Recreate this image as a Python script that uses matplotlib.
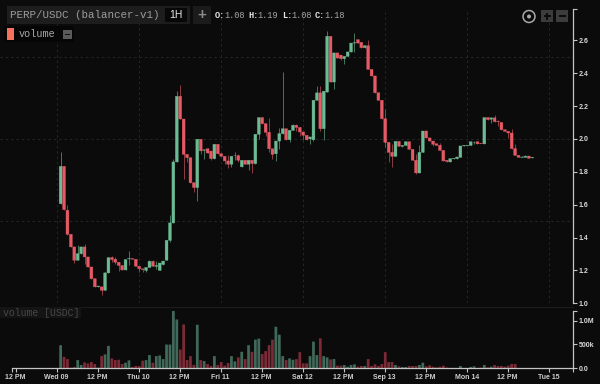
import numpy as np
import matplotlib
matplotlib.use("Agg")
import matplotlib.pyplot as plt
from matplotlib.patches import Rectangle, Circle

# hourly candles, hour 1 = Wed 09 01:00
opens = [1.606,1.833,1.566,1.42,1.343,1.262,1.302,1.343,1.282,1.221,1.15,1.10,1.10,1.079,1.185,1.278,1.268,1.25,1.23,1.203,
         1.27,1.272,1.268,1.225,1.21,1.20,1.218,1.255,1.225,1.20,1.236,1.262,1.383,1.489,1.86,2.259,2.121,1.906,1.886,1.734,
         1.704,1.998,1.93,1.94,1.926,1.88,1.967,1.91,1.894,1.866,1.846,1.90,1.898,1.83,1.87,1.846,1.87,1.85,2.028,2.13,
         2.093,2.04,1.94,1.91,1.987,2.032,2.062,1.995,2.052,2.083,2.07,2.042,2.022,2.0,1.995,2.235,2.28,2.062,2.285,2.624,
         2.346,2.523,2.51,2.488,2.502,2.529,2.583,2.604,2.587,2.555,2.567,2.423,2.383,2.281,2.235,2.123,1.979,1.918,1.894,1.985,
         1.955,1.96,1.983,1.937,1.87,1.793,1.918,2.048,2.006,1.987,1.971,1.961,1.93,1.87,1.86,1.88,1.88,1.888,1.957,1.96,
         1.96,1.98,1.983,1.972,1.97,2.13,2.12,2.128,2.107,2.10,2.056,2.046,2.036,1.941,1.90,1.888,1.888,1.896,1.885]
closes = [1.833,1.570,1.42,1.343,1.262,1.302,1.343,1.282,1.221,1.15,1.10,1.105,1.079,1.185,1.278,1.266,1.25,1.23,1.203,1.266,
          1.272,1.268,1.225,1.21,1.205,1.218,1.255,1.225,1.23,1.245,1.257,1.383,1.489,1.86,2.259,2.121,1.906,1.886,1.734,1.704,
          1.998,1.927,1.934,1.914,1.88,1.967,1.91,1.894,1.866,1.846,1.894,1.90,1.87,1.87,1.846,1.87,1.85,2.028,2.13,2.093,
          2.04,1.94,1.906,1.987,2.032,2.062,1.995,2.052,2.083,2.07,2.042,2.022,1.995,2.012,2.235,2.28,2.062,2.29,2.624,2.346,
          2.523,2.492,2.488,2.502,2.529,2.583,2.585,2.583,2.555,2.567,2.423,2.383,2.281,2.235,2.123,1.979,1.918,1.894,1.985,1.955,
          1.96,1.983,1.937,1.87,1.793,1.918,2.048,2.006,1.987,1.967,1.961,1.93,1.866,1.862,1.88,1.882,1.89,1.957,1.96,1.962,
          1.983,1.98,1.97,1.97,2.13,2.117,2.128,2.105,2.105,2.056,2.046,2.036,1.941,1.90,1.888,1.89,1.895,1.882,1.888]
highs = [1.922,1.833,1.60,1.42,1.343,1.352,1.343,1.359,1.282,1.221,1.15,1.105,1.10,1.19,1.278,1.286,1.28,1.25,1.23,1.266,
         1.318,1.272,1.268,1.225,1.21,1.218,1.265,1.265,1.257,1.245,1.257,1.383,1.535,1.875,2.29,2.326,2.121,1.91,1.886,1.734,
         2.0,1.998,1.934,1.945,1.926,1.967,1.967,1.91,1.894,1.90,1.895,1.918,1.91,1.87,1.87,1.87,1.87,2.028,2.13,2.13,
         2.093,2.13,1.94,1.987,2.066,2.405,2.062,2.052,2.09,2.093,2.07,2.042,2.022,2.012,2.235,2.32,2.32,2.29,2.654,2.624,
         2.523,2.523,2.51,2.502,2.529,2.583,2.644,2.604,2.587,2.567,2.60,2.423,2.383,2.281,2.235,2.184,1.979,1.97,1.985,1.985,
         1.965,1.983,1.983,1.937,1.906,1.96,2.048,2.056,2.006,1.987,1.971,1.975,1.93,1.87,1.88,1.885,1.89,1.957,1.96,1.965,
         1.983,1.99,1.983,1.972,2.13,2.135,2.128,2.143,2.115,2.10,2.056,2.046,2.058,1.97,1.90,1.895,1.90,1.896,1.888]
lows = [1.606,1.570,1.415,1.343,1.245,1.262,1.302,1.237,1.221,1.15,1.10,1.10,1.049,1.079,1.185,1.25,1.24,1.197,1.203,1.203,
        1.231,1.268,1.225,1.193,1.19,1.19,1.218,1.225,1.21,1.20,1.23,1.262,1.375,1.489,1.86,2.121,1.758,1.86,1.734,1.68,
        1.62,1.91,1.876,1.914,1.874,1.88,1.91,1.894,1.85,1.823,1.83,1.874,1.86,1.83,1.846,1.81,1.79,1.85,2.0,2.093,
        2.015,1.92,1.88,1.866,1.94,2.03,1.995,1.98,2.052,2.05,2.02,1.995,1.995,1.967,1.99,2.235,2.048,1.995,2.285,2.346,
        2.306,2.492,2.478,2.454,2.502,2.529,2.53,2.583,2.555,2.555,2.423,2.383,2.281,2.235,2.123,1.95,1.86,1.83,1.894,1.955,
        1.95,1.96,1.937,1.87,1.785,1.793,1.918,2.006,1.987,1.955,1.961,1.93,1.866,1.862,1.86,1.88,1.88,1.888,1.957,1.96,
        1.96,1.97,1.97,1.97,1.97,2.117,2.098,2.105,2.08,2.056,2.046,2.008,1.941,1.90,1.888,1.888,1.888,1.882,1.885]
# volume in thousands of USDC
volumes = [483,241,193,14,28,172,69,124,103,131,90,14,255,290,469,207,172,179,90,117,
           166,28,48,48,159,172,276,117,255,269,193,497,497,1200,1021,393,918,172,255,69,
           911,172,152,90,48,255,69,131,55,110,255,145,228,345,193,483,345,600,621,297,
           359,483,600,869,704,255,172,207,179,193,338,103,103,255,559,276,628,255,228,186,
           193,55,55,69,34,69,83,34,48,48,193,48,83,48,90,338,131,131,69,41,
           28,28,48,48,48,69,117,41,62,34,21,34,55,14,7,7,7,48,7,7,
           28,41,7,14,69,21,34,69,48,48,34,55,90,90,3,3,2,2,2]
hours = list(range(1, len(opens) + 1))

tick_hours = [-12,0,12,24,36,48,60,72,84,96,108,120,132,144]
tick_labels = ["12 PM","Wed 09","12 PM","Thu 10","12 PM","Fri 11","12 PM","Sat 12","12 PM","Sep 13","12 PM","Mon 14","12 PM","Tue 15"]
price_ticks = [1.0,1.2,1.4,1.6,1.8,2.0,2.2,2.4,2.6]
vol_ticks = [0,500,1000]
vol_labels = ["0.0","500k","1.0M"]
grid_prices = [1.0,1.5,2.0,2.5]
grid_hours = [0,24,48,72,96,120,144]

BG = "#0b0b0b"
UP = "#6dbb94"
DOWN = "#e65a66"
UP_VOL = "#41695a"
DOWN_VOL = "#7c2b36"
AXIS = "#c4c4c4"
TXT = "#d8d8d8"

W, H = 600, 384
fig = plt.figure(figsize=(6, 3.84), dpi=100, facecolor=BG)
ax = fig.add_axes([0, (H-303.3)/H, 573/W, 294.3/H], facecolor=BG)
axv = fig.add_axes([0, (H-368.3)/H, 573/W, 57.8/H], facecolor=BG)

o, c, hi, lo, t = map(np.array, (opens, closes, highs, lows, hours))
up = c >= o
xlim = ((0-57.2)/3.417, (573-57.2)/3.417)
shift = -0.18  # ticks sit slightly left of candle slots

# candles
for mask, col in ((up, UP), (~up, DOWN)):
    ax.vlines(t[mask], lo[mask], hi[mask], color=col, lw=0.6, alpha=0.7, zorder=3)
    bars = ax.bar(t[mask], np.abs(c-o)[mask], bottom=np.minimum(o, c)[mask], width=0.84,
                  color=col, edgecolor=col, linewidth=0.25, zorder=4)
    for b in bars:
        b.set_snap(False)
ax.set_xlim(xlim)
ax.set_ylim(1.0, 1.0 + 294.3/164.4)

for p in grid_prices:
    ax.axhline(p, color="#262626", lw=0.7, ls=(0, (2.5, 3)), zorder=1)
for g in grid_hours:
    ax.axvline(g+shift, color="#262626", lw=0.7, ls=(0, (2.5, 3)), zorder=1)

for s in ("top", "left", "bottom"):
    ax.spines[s].set_visible(False)
ax.spines["right"].set_color(AXIS)
ax.spines["right"].set_linewidth(0.9)
ax.xaxis.set_visible(False)
ax.yaxis.tick_right()
ax.set_yticks(price_ticks + [ax.get_ylim()[1]])
ax.set_yticklabels(["%.1f" % p for p in price_ticks] + [""], fontfamily="Liberation Sans",
                   fontweight="bold", fontsize=5, color=TXT)
ax.tick_params(axis="y", direction="out", length=2.9, width=0.8, color=AXIS, pad=1)

# volume
vol = np.array(volumes)
vbars = axv.bar(t, vol, width=0.8, color=[UP_VOL if u else DOWN_VOL for u in up], linewidth=0)
for b in vbars:
    b.set_snap(False)
axv.set_xlim(xlim)
axv.set_ylim(0, 57.8/47.8*1000)
for s in ("top", "left"):
    axv.spines[s].set_visible(False)
axv.spines["right"].set_color(AXIS)
axv.spines["right"].set_linewidth(0.9)
axv.spines["bottom"].set_color(AXIS)
axv.spines["bottom"].set_linewidth(0.9)
axv.spines["bottom"].set_bounds((11.7-57.2)/3.417, xlim[1])
axv.yaxis.tick_right()
axv.set_yticks(vol_ticks + [axv.get_ylim()[1]])
axv.set_yticklabels(vol_labels + [""], fontfamily="Liberation Sans", fontweight="bold",
                    fontsize=5, color=TXT)
axv.tick_params(axis="y", direction="out", length=2.9, width=0.8, color=AXIS, pad=1)
axv.set_xticks([h+shift for h in tick_hours] + [(11.7-57.2)/3.417, xlim[1]-0.05])
axv.set_xticklabels(tick_labels + ["", ""], fontfamily="Liberation Sans", fontweight="bold",
                    fontsize=5, color="#cfcfcf")
axv.tick_params(axis="x", direction="out", length=2.9, width=0.8, color=AXIS, pad=1)

# header and buttons, in pixel coordinates
ov = fig.add_axes([0, 0, 1, 1], facecolor="none")
ov.set_xlim(0, W)
ov.set_ylim(H, 0)
ov.axis("off")

def box(x0, y0, x1, y1, col, z=5):
    ov.add_patch(Rectangle((x0, y0), x1-x0, y1-y0, facecolor=col, edgecolor="none", zorder=z))

MONO = "Liberation Mono"
box(7, 6, 190, 24, "#1d1d1d")
box(165, 8, 187, 22, "#070707", 6)
box(193, 6, 211, 24, "#1b1b1b")
ov.text(10, 15.5, "PERP/USDC (balancer-v1)", family=MONO, fontsize=7.8, color="#9c9c9c", va="center", zorder=7)
ov.text(176, 15.5, "1H", family="Liberation Sans", fontsize=7.5, color="#e8e8e8", va="center", ha="center", zorder=7)
ov.text(202, 15, "+", family="Liberation Sans", fontweight="bold", fontsize=11, color="#8a8a8a", va="center", ha="center", zorder=7)

ohlc = [(215, "O:", "1.08"), (248, "H:", "1.19"), (282, "L:", "1.08"), (315, "C:", "1.18")]
for x, k, v in ohlc:
    ov.text(x, 15.5, k, family=MONO, fontweight="bold", fontsize=6.2, color="#e6e6e6", va="center", zorder=7)
    ov.text(x+9.5, 15.5, v, family=MONO, fontsize=6.2, color="#a8a8a8", va="center", zorder=7)

box(4, 26, 74, 42, "#060606")
box(7, 28, 14, 40, "#f5735c", 6)
ov.text(19, 34, "volume", family=MONO, fontsize=7.3, color="#a8a8a8", va="center", zorder=7)
box(63, 30, 72, 39, "#5a5a5a", 6)
box(65, 34, 70, 35.2, "#111111", 7)

# top right controls
ov.add_patch(Circle((529, 16.5), 6, facecolor="none", edgecolor="#a8a8a8", linewidth=1.1, zorder=6))
ov.add_patch(Circle((529, 16.5), 2, facecolor="#a8a8a8", edgecolor="none", zorder=6))
box(541, 10, 553, 22, "#3c3c3c", 6)
box(556, 10, 568, 22, "#3c3c3c", 6)
box(543.5, 15.2, 550.5, 16.8, "#0c0c0c", 7)
box(546.2, 12.5, 547.8, 19.5, "#0c0c0c", 7)
box(558.5, 15.2, 565.5, 16.8, "#0c0c0c", 7)

# volume panel label and separator
ov.plot([0, 573], [307, 307], color="#1d1d1d", lw=0.8, zorder=2)
box(0, 307, 81, 318, "#141414")
ov.text(3, 312.8, "volume [USDC]", family=MONO, fontsize=7.1, color="#474747", va="center", zorder=7)

fig.savefig("out.png", dpi=100, facecolor=BG)
